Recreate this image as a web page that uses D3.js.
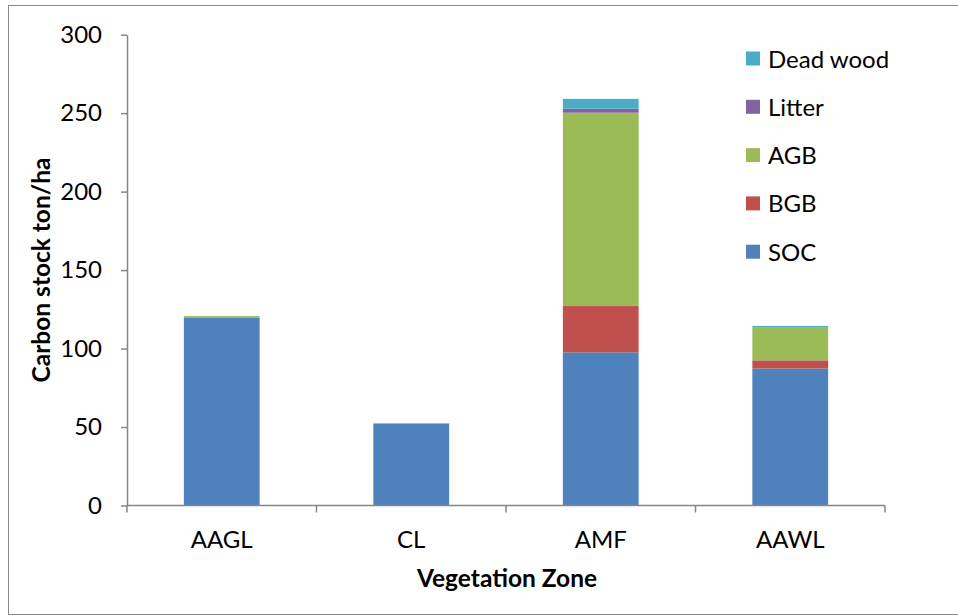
<!DOCTYPE html>
<html>
<head>
<meta charset="utf-8">
<script src="https://cdn.jsdelivr.net/npm/d3@7"></script>
<style>
  html, body { margin: 0; padding: 0; background: #fff; }
  svg { display: block; font-family: Lato, "Open Sans", sans-serif; }
</style>
</head>
<body>
<svg id="chart" width="958" height="616"></svg>
<script>
// Carbon stock per vegetation zone, split by pool (ton/ha)
const categories = ["AAGL", "CL", "AMF", "AAWL"];
const soc      = [119.5, 52.3, 97.6, 87.3];
const bgb      = [0, 0, 29.5, 5.2];
const agb      = [1.2, 0, 123.2, 21.0];
const litter   = [0, 0, 2.6, 0.2];
const deadWood = [0, 0, 6.2, 0.7];

const seriesNames  = ["SOC", "BGB", "AGB", "Litter", "Dead wood"];
const seriesValues = [soc, bgb, agb, litter, deadWood];
const seriesColors = ["#4F81BD", "#C0504D", "#9BBB59", "#8064A2", "#4BACC6"];
const yTicks = [0, 50, 100, 150, 200, 250, 300];

const rows = categories.map((c, i) => {
  const r = { zone: c };
  seriesNames.forEach((s, k) => { r[s] = seriesValues[k][i]; });
  return r;
});

const svg = d3.select("#chart");
const plot = { left: 127, right: 885, top: 34.7, bottom: 505.5 };
const axisColor = "#868686";

// outer chart frame
svg.append("rect")
  .attr("x", 8.5).attr("y", 5.5)
  .attr("width", 960).attr("height", 609)
  .attr("fill", "none").attr("stroke", "#8a8a8a").attr("stroke-width", 1);

const x = d3.scaleBand().domain(categories)
  .range([plot.left, plot.right]).paddingInner(0.6).paddingOuter(0.3);
const y = d3.scaleLinear().domain([0, 300]).range([plot.bottom, plot.top]);

const stacked = d3.stack().keys(seriesNames)(rows);

svg.append("g").selectAll("g")
  .data(stacked)
  .join("g")
  .attr("fill", (d, i) => seriesColors[i])
  .selectAll("rect")
  .data(d => d)
  .join("rect")
  .attr("x", d => x(d.data.zone))
  .attr("width", x.bandwidth())
  .attr("y", d => y(d[1]))
  .attr("height", d => Math.max(0, y(d[0]) - y(d[1])));

// y axis
const yAxis = svg.append("g")
  .attr("transform", `translate(${plot.left},0)`)
  .call(d3.axisLeft(y).tickValues(yTicks).tickSize(6).tickPadding(19).tickSizeOuter(0));
yAxis.select(".domain").attr("stroke", axisColor).attr("stroke-width", 1.5);
yAxis.selectAll(".tick line").attr("stroke", axisColor).attr("stroke-width", 1.5);
yAxis.selectAll(".tick text")
  .attr("fill", "#000").style("font-size", "24px").style("font-family", "Lato");

// x axis line with ticks between categories
const xAxis = svg.append("g");
xAxis.append("line")
  .attr("x1", plot.left).attr("x2", plot.right)
  .attr("y1", plot.bottom).attr("y2", plot.bottom)
  .attr("stroke", axisColor).attr("stroke-width", 1.5);
const boundaries = categories.map(c => x(c) - x.step() * x.paddingInner() / 2)
  .concat([plot.right]);
boundaries[0] = plot.left;
xAxis.selectAll("line.tk").data(boundaries).join("line")
  .attr("class", "tk")
  .attr("x1", d => d).attr("x2", d => d)
  .attr("y1", plot.bottom).attr("y2", plot.bottom + 7)
  .attr("stroke", axisColor).attr("stroke-width", 1.5);
xAxis.selectAll("text").data(categories).join("text")
  .attr("x", d => x(d) + x.bandwidth() / 2)
  .attr("y", 547.5)
  .attr("text-anchor", "middle")
  .style("font-size", "24px")
  .text(d => d);

// axis titles
svg.append("text")
  .attr("x", 507).attr("y", 587)
  .attr("text-anchor", "middle")
  .style("font-size", "24.5px").style("font-weight", "bold")
  .text("Vegetation Zone");
svg.append("text")
  .attr("transform", "translate(50,270) rotate(-90)")
  .attr("text-anchor", "middle")
  .style("font-size", "24.5px").style("font-weight", "bold")
  .text("Carbon stock ton/ha");

// legend, top series first
const legendOrder = seriesNames.map((s, i) => i).reverse();
const legend = svg.append("g").selectAll("g")
  .data(legendOrder)
  .join("g")
  .attr("transform", (d, j) => `translate(746,${59 + j * 48.3})`);
legend.append("rect")
  .attr("x", 0).attr("y", -7.5)
  .attr("width", 14).attr("height", 14)
  .attr("fill", d => seriesColors[d]);
legend.append("text")
  .attr("x", 22).attr("y", 8.5)
  .style("font-size", "24px")
  .text(d => seriesNames[d]);
</script>
</body>
</html>
